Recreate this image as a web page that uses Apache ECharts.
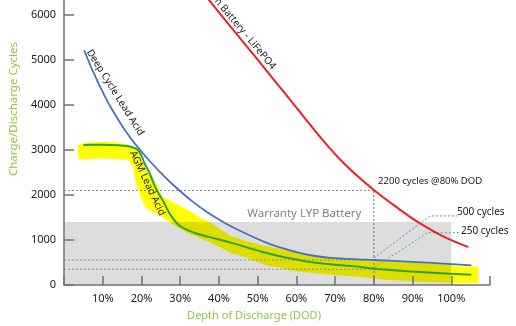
<!DOCTYPE html>
<html><head><meta charset="utf-8">
<script src="https://cdn.jsdelivr.net/npm/echarts@6/dist/echarts.min.js"></script>
<style>html,body{margin:0;padding:0;background:#fff}#c{width:516px;height:326px}</style>
</head><body><div id="c"></div>
<script>
// ---------- data ----------
const xTicks = [0,10,20,30,40,50,60,70,80,90,100,110];
const xLabels = ['','10%','20%','30%','40%','50%','60%','70%','80%','90%','100%',''];
const yTicks = [0,1000,2000,3000,4000,5000,6000];

const lifepo4 = [[35,6590],[37.5,6325],[44.8,5550],[49.1,5100],[54.2,4560],[60,3940],[66.7,3230],[72.3,2700],[80,2110],[86.8,1670],[91.1,1415],[97.9,1080],[104.4,842]];
const deepCycle = [[5.2,5217],[7.5,4739],[10.5,4199],[13,3812],[16,3407],[18.5,3120],[21.7,2794],[25.1,2483],[28.5,2200],[32.8,1880],[37.1,1610],[41.4,1385],[45.7,1195],[51.7,960],[56,830],[60.3,725],[64.5,650],[68.8,605],[75.7,570],[80,555],[90,512],[100,466],[105.2,435]];
const agm = [[5,3111],[10,3115],[14,3105],[16.6,3085],[18.2,3045],[19.1,3000],[20.1,2850],[20.8,2700],[22.1,2483],[23.4,2200],[24.5,2020],[25.6,1860],[26.6,1690],[27.7,1530],[28.8,1405],[30,1310],[31.5,1235],[34,1150],[37.1,1075],[40,1010],[43.5,930],[47.4,830],[51,740],[56,634],[60.3,561],[64.5,501],[68.8,462],[75.7,412],[80,361],[90,300],[100,250],[105.2,228]];
const agmBandUpper = [[3.5,3000],[3.8,3130],[6,3165],[9.7,3180],[13,3170],[16.6,3120],[18.3,3050],[19.3,2920],[20.5,2700],[21.7,2500],[22.8,2400],[24.2,2200],[25.1,1970],[27.7,1854],[30.3,1743],[32.8,1632],[35.4,1485],[38,1375],[40.5,1226],[43.1,1090],[47.4,967],[51.7,870],[56,800],[60.3,730],[64.5,672],[68.8,630],[75.7,577],[80,540],[90,495],[100.5,455],[100.5,412],[107,412]];
const agmBandLower = [[3.5,3000],[3.8,2790],[9.7,2816],[14,2800],[16.6,2780],[17.8,2630],[18.3,2335],[19.6,2000],[21,1720],[23,1620],[25.5,1500],[28.5,1320],[31.1,1190],[33.7,1090],[37.1,970],[40.5,830],[43.1,710],[47.4,599],[51.7,450],[56,377],[60.3,302],[64.5,266],[68.8,228],[75.7,191],[83.4,118],[92,80],[100.5,44],[107,44]];
const warrantyBox = [[0,0],[100,1400]];
const ref2200 = [[0,2100],[80,2100]];
const ref80 = [[80,0],[80,2100]];
const ref500 = [[0,556],[80,556]];
const ref250 = [[0,350],[80,350]];
const leader500 = [[80,600],[94.5,1535],[101.5,1535]];
const leader250 = [[80.3,400],[93.9,1163],[102.2,1163]];

// ---------- annotations (anchor in data coords) ----------
const notes = [
  {text:'Lithium Ion Battery - LiFePO4', at:[54.2,4818], rot:-50, align:'right', size:10, color:'#1a1a1a'},
  {text:'Deep Cycle Lead Acid', at:[13.2,4275], rot:-58, align:'center', size:10, color:'#1a1a1a'},
  {text:'AGM Lead Acid', at:[21.5,2262], rot:-64.7, align:'center', size:10, color:'#1a1a1a'},
  {text:'Warranty LYP Battery', at:[47.3,1581], rot:0, align:'left', size:11.5, color:'#808387'},
  {text:'2200 cycles @80% DOD', at:[81.1,2297], rot:0, align:'left', size:9.5, color:'#1a1a1a'},
  {text:'500 cycles', at:[101.5,1610], rot:0, align:'left', size:10, color:'#1a1a1a'},
  {text:'250 cycles', at:[102.5,1188], rot:0, align:'left', size:10, color:'#1a1a1a'}
];

const FONT = 'Noto Sans';
const chart = echarts.init(document.getElementById('c'), null, {renderer:'canvas'});

function refLine(data, color, dash) {
  return {type:'line', data, symbol:'none', silent:true, z:4, smooth:false,
    lineStyle:{color, width:1, type:dash}};
}

const option = {
  animation:false,
  textStyle:{fontFamily:FONT},
  grid:{left:62, right:26, top:0, bottom:41},
  xAxis:{
    type:'value', min:0, max:110, interval:10, z:10,
    axisLine:{show:true, onZero:false, lineStyle:{color:'#707070', width:1.5}},
    axisTick:{show:true, inside:true, length:9, lineStyle:{color:'#707070', width:1.5}},
    axisLabel:{color:'#1a1a1a', fontSize:11, margin:8, fontFamily:FONT,
      formatter:v => xLabels[xTicks.indexOf(v)] || ''},
    splitLine:{show:false},
    name:'Depth of Discharge (DOD)', nameLocation:'middle', nameGap:25,
    nameTextStyle:{color:'#93c63c', fontSize:11, fontFamily:FONT, padding:[0,46,0,0]}
  },
  yAxis:{
    type:'value', min:0, max:6333, z:10,
    axisLine:{show:true, onZero:false, lineStyle:{color:'#707070', width:1.5}},
    axisTick:{show:true, inside:true, length:10, customValues:yTicks, lineStyle:{color:'#707070', width:1.5}},
    axisLabel:{color:'#1a1a1a', fontSize:11, margin:8, fontFamily:FONT, customValues:yTicks,
      formatter:v => (yTicks.indexOf(v) >= 0 ? String(v) : '')},
    splitLine:{show:false},
    name:'Charge/Discharge Cycles', nameLocation:'middle', nameGap:38,
    nameTextStyle:{color:'#93c63c', fontSize:11.5, fontFamily:FONT, padding:[0,0,0,67]}
  },
  series:[
    {type:'custom', z:1, silent:true, data:[0], clip:true,
     renderItem:(params, api) => {
       const pts = agmBandUpper.concat(agmBandLower.slice().reverse()).map(p => api.coord(p));
       return {type:'polygon', shape:{points:pts}, style:{fill:'#ffff00'}};
     }},
    {type:'custom', z:2, silent:true, data:[0], clip:true,
     renderItem:(params, api) => {
       const a = api.coord(warrantyBox[0]), b = api.coord(warrantyBox[1]);
       return {type:'rect', shape:{x:a[0], y:b[1], width:b[0]-a[0], height:a[1]-b[1]},
         style:{fill:'rgba(0,0,0,0.135)'}};
     }},
    refLine(ref2200, '#8c8c8c', [2,2]),
    refLine(ref80, '#6f6f6f', [2,2]),
    refLine(ref500, '#8c8c8c', [2,2]),
    refLine(ref250, '#8c8c8c', [2,2]),
    refLine(leader500, '#5b7fc7', [2,2]),
    refLine(leader250, '#3fb86a', [2,2]),
    {type:'line', name:'LiFePO4', data:lifepo4, smooth:0.3, symbol:'none', z:6, clip:true,
     lineStyle:{color:'#e8212a', width:2}},
    {type:'line', name:'Deep Cycle Lead Acid', data:deepCycle, smooth:0.3, symbol:'none', z:6,
     lineStyle:{color:'#4a6fbf', width:1.8}},
    {type:'line', name:'AGM Lead Acid', data:agm, smooth:0.3, symbol:'none', z:6,
     lineStyle:{color:'#2fa23a', width:2}}
  ]
};
chart.setOption(option);

const graphics = notes.map(n => {
  const p = chart.convertToPixel({gridIndex:0}, n.at);
  return {type:'text', x:p[0], y:p[1], rotation:n.rot*Math.PI/180, z:20, silent:true,
    style:{text:n.text, fill:n.color, font:n.size + 'px "' + FONT + '"',
      textAlign:n.align, textVerticalAlign:'middle'}};
});
chart.setOption({graphic:graphics});
</script>
</body></html>
